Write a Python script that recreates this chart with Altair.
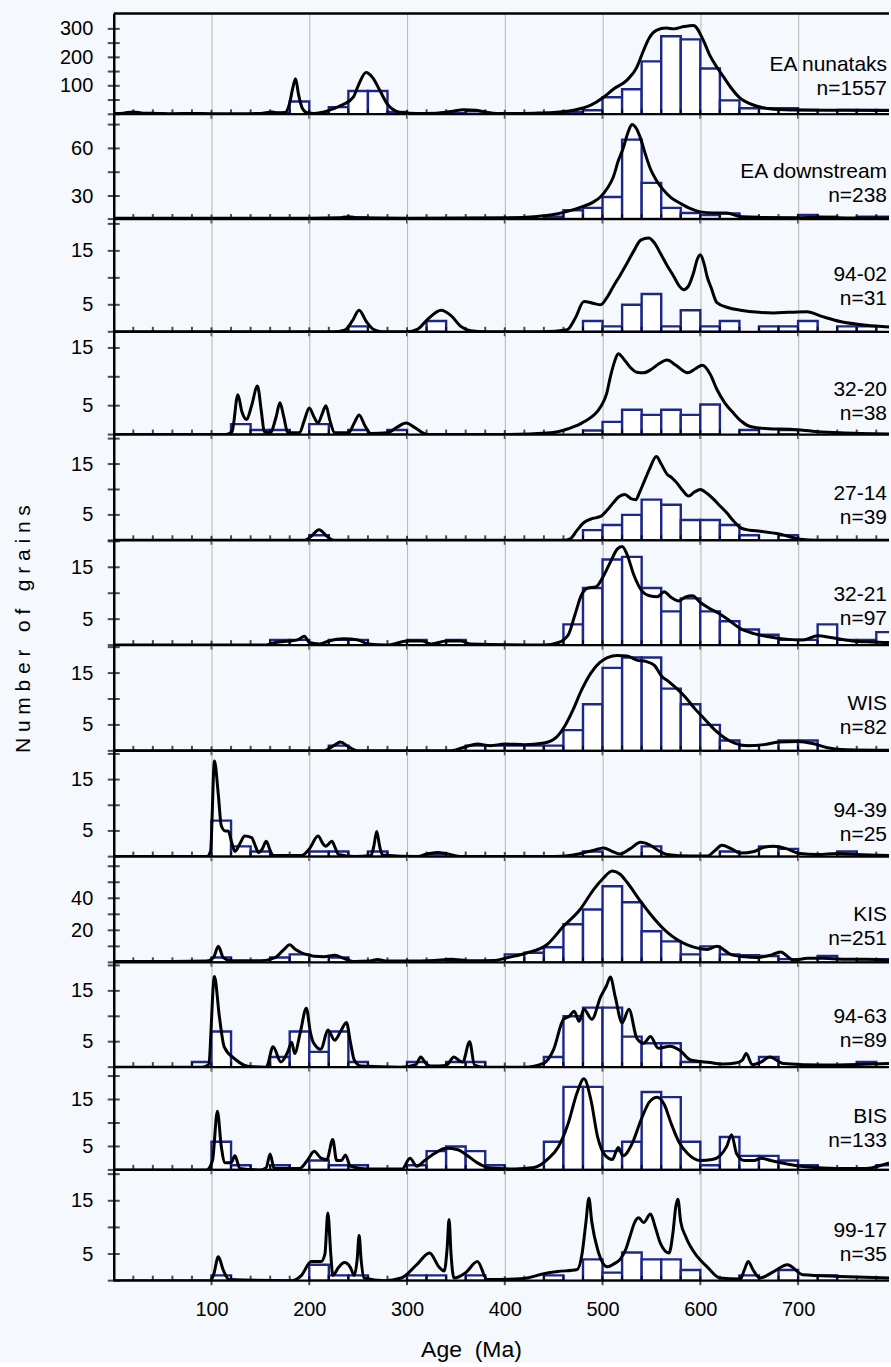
import altair as alt
import pandas as pd

FONT = "Liberation Sans"
BLUE = "#1c278a"
BG = "#f5f8fc"
GRID = "#a6a6a6"
X_MAX = 793
PLOT_W = 777
BIN_W = 20

PANEL_NAMES = ["EA nunataks", "EA downstream", "94-02", "32-20", "27-14", "32-21",
               "WIS", "94-39", "KIS", "94-63", "BIS", "99-17"]
PANEL_N = ["n=1557", "n=238", "n=31", "n=38", "n=39", "n=97",
           "n=82", "n=25", "n=251", "n=89", "n=133", "n=35"]
PANEL_H = [101, 105, 113, 103, 106, 105, 106, 106, 106, 105, 103, 111]
Y_MIN = [0, 15.5, 0, 0, 0, 0, 0, 0, 0, 0, 0, 0]
Y_MAX = [354, 81.5, 20.9, 17.8, 20.8, 20.2, 20.4, 20.6, 66, 20.6, 21.9, 20.8]
Y_LABELS = [[100, 200, 300], [30, 60], [5, 15], [5, 15], [5, 15], [5, 15],
            [5, 15], [5, 15], [20, 40], [5, 15], [5, 15], [5, 15]]
Y_MINOR = [[50, 150, 250], [45, 75], [10, 20], [10], [10, 20], [10, 20],
           [10, 20], [10, 20], [10, 30, 50, 60], [10, 20], [10, 20], [10, 20]]
LABEL_TOP = [52, 58, 56, 58, 60, 55, 59, 60, 59, 55, 50, 61]
X_TICK_MAJOR = [100, 200, 300, 400, 500, 600, 700]
X_TICK_MINOR = [20, 40, 60, 80, 120, 140, 160, 180, 220, 240, 260, 280, 320, 340, 360, 380,
                420, 440, 460, 480, 520, 540, 560, 580, 620, 640, 660, 680, 720, 740, 760, 780]

# ---------------- EA nunataks ----------------
EA_NUN_BIN = [160, 180, 200, 220, 240, 260, 280, 300, 340, 360, 440, 460, 480, 500, 520, 540,
              560, 580, 600, 620, 640, 660, 680, 700, 740, 760, 780]
EA_NUN_CNT = [5, 45, 3, 25, 82, 82, 8, 2, 4, 10, 5, 8, 14, 60, 88, 186,
              274, 263, 161, 49, 21, 21, 21, 15, 15, 15, 15]
EA_NUN_AGE = [0, 10, 20, 30, 45, 60, 80, 100, 130, 150, 162, 168, 175, 180, 183, 186, 189, 193,
              198, 205, 215, 225, 235, 245, 250, 258, 265, 272, 280, 288, 295, 310, 330, 345, 358,
              370, 380, 392, 410, 430, 450, 470, 488, 501, 511, 525, 535, 542, 548, 555, 565, 573,
              583, 593, 603, 610, 617, 625, 631, 641, 650, 658, 675, 700, 750, 793]
EA_NUN_DEN = [3, 4, 8, 4, 3, 2, 3, 2, 2, 3, 8, 5, 6, 40, 90, 125, 70, 20,
              5, 3, 8, 20, 35, 60, 100, 147, 128, 85, 35, 12, 5, 3, 4, 10, 16,
              14, 8, 3, 3, 4, 6, 14, 32, 60, 88, 120, 165, 225, 270, 295, 303, 300,
              308, 312, 260, 205, 165, 125, 95, 56, 38, 28, 18, 15, 14, 13]

# ---------------- EA downstream ----------------
EA_DS_BIN = [240, 440, 460, 480, 500, 520, 540, 560, 580, 600, 620, 640, 700, 720, 760, 780]
EA_DS_CNT = [16.5, 17, 21, 22.5, 29.4, 65.5, 38.3, 22.5, 19.3, 18, 19, 17, 18, 17, 17, 17]
EA_DS_AGE = [0, 200, 230, 240, 250, 300, 400, 430, 447, 465, 478, 490, 498, 505, 511, 516, 521,
             526, 530, 535, 539, 544, 549, 555, 562, 570, 579, 590, 600, 613, 627, 641, 660, 700,
             720, 750, 793]
EA_DS_DEN = [16, 16, 16.3, 17, 16.3, 16, 16.3, 17, 18, 20.5, 23, 26, 29.5, 35, 42, 52, 60,
             70, 75, 72, 66, 56, 47, 40, 34, 29, 25.6, 22, 20, 19.3, 19.3, 17, 16.5, 16.3,
             16.6, 16.2, 16.2]

# ---------------- 94-02 ----------------
S9402_BIN = [240, 320, 480, 500, 520, 540, 560, 580, 600, 620, 660, 680, 700, 740, 760]
S9402_CNT = [1, 2, 2, 1, 5, 7, 1, 4, 1, 2, 1, 1, 2, 1, 1]
S9402_AGE = [0, 225, 236, 244, 251, 258, 266, 275, 300, 311, 322, 335, 345, 355, 365, 380, 440,
             464, 472, 481, 490, 498, 505, 511, 518, 525, 532, 539, 547, 553, 559, 566, 573, 578,
             583, 588, 593, 597, 600, 604, 607, 611, 617, 628, 641, 660, 675, 690, 709, 725, 743,
             770, 793]
S9402_DEN = [0, 0, 0.3, 2, 4, 2, 0.4, 0, 0, 0.5, 2.5, 4, 3, 1, 0.2, 0, 0,
             0.4, 2.5, 5.6, 5.3, 5, 6.5, 8.4, 10.5, 12.7, 15, 17, 17.4, 16.5, 14.6, 12.3, 10.2, 8.6,
             7.8, 8.5, 10.9, 13.5, 14.3, 12.5, 10.2, 8.2, 5.4, 4.5, 4, 3.6, 3.5, 3.6, 3.7, 2.8, 1.9,
             1.2, 0.9]

# ---------------- 32-20 ----------------
S3220_BIN = [120, 140, 160, 200, 240, 280, 480, 500, 520, 540, 560, 580, 600, 640, 680]
S3220_CNT = [1.8, 0.8, 0.8, 1.8, 0.8, 0.8, 0.7, 2.2, 4.3, 3.4, 4.3, 3.4, 5.2, 0.8, 0.8]
S3220_AGE = [0, 115, 121, 127, 131, 136, 141, 147, 151, 154, 160, 166, 170, 174, 178, 190, 195,
             200, 205, 209, 213, 217, 221, 226, 240, 246, 251, 257, 263, 280, 290, 299, 308, 321,
             400, 447, 465, 481, 498, 504, 508, 512, 516, 522, 528, 535, 542, 550, 558, 566, 575,
             587, 595, 602, 610, 617, 625, 634, 642, 651, 670, 692, 720, 743, 793]
S3220_DEN = [0, 0, 0.5, 6.9, 4, 2.6, 5, 8.4, 4, 0.5, 0.3, 3, 5.5, 3, 0.3, 0.3, 2.5,
             4.6, 3, 2, 3.5, 5, 2.5, 0.3, 0.3, 2, 3.4, 1.5, 0.2, 0.3, 1.3, 2, 1.2, 0,
             0, 0.3, 1, 2.2, 4.8, 7, 10, 12.5, 14, 13, 11.7, 10.8, 10.7, 11.3, 12.3, 12.9, 12,
             10.7, 11.4, 12, 10.5, 7.8, 5.5, 3.7, 2.3, 1.4, 1, 0.9, 0.5, 0.3, 0.1]

# ---------------- 27-14 ----------------
S2714_BIN = [200, 480, 500, 520, 540, 560, 580, 600, 620, 640, 680]
S2714_CNT = [1, 2, 3, 5, 8, 7, 4, 4, 3, 1, 1]
S2714_AGE = [0, 195, 202, 210, 218, 225, 460, 467, 474, 481, 490, 498, 505, 511, 517, 523, 529,
             534, 538, 542, 548, 555, 560, 566, 571, 576, 582, 588, 594, 600, 607, 614, 620, 627,
             634, 641, 650, 661, 682, 702, 720, 793]
S2714_DEN = [0, 0, 0.8, 2.1, 0.8, 0, 0, 0.3, 2, 3.5, 4.3, 4.7, 6, 7.4, 8.6, 9, 8.2,
             8, 9.5, 11.3, 14, 16.5, 15, 13, 12.3, 11.3, 9.8, 8.7, 9.5, 10, 9.2, 8, 6.8, 5.4,
             3.8, 2.5, 2, 1.8, 1.2, 0.2, 0, 0]

# ---------------- 32-21 ----------------
S3221_BIN = [160, 180, 220, 240, 300, 340, 460, 480, 500, 520, 540, 560, 580, 600, 620, 640,
             660, 680, 700, 720, 740, 760, 780]
S3221_CNT = [1, 1, 1, 1, 1, 1, 4, 11, 16.5, 17, 11, 6.5, 9, 6.5, 4.6, 3,
             2, 1, 1, 4, 1, 1, 2.5]
S3221_AGE = [0, 155, 165, 180, 188, 195, 200, 210, 220, 235, 250, 260, 280, 300, 315, 325, 340,
             355, 365, 440, 455, 465, 472, 478, 485, 493, 500, 508, 515, 520, 525, 532, 540, 548,
             556, 563, 570, 578, 585, 592, 600, 610, 620, 630, 640, 655, 670, 690, 705, 720, 735,
             755, 775, 793]
S3221_DEN = [0, 0, 0.5, 0.8, 1, 1.7, 0.5, 0.2, 0.8, 1.2, 1, 0.2, 0, 0.8, 0.8, 0.2, 0.8,
             0.8, 0.2, 0, 0.5, 2, 6, 9.5, 11, 11.2, 13, 16, 18.5, 19, 17.5, 13.5, 10.5, 9.5,
             9.3, 10.3, 9.2, 8.5, 9.3, 9.5, 8.2, 7, 6, 4.7, 3.3, 2.2, 1.6, 1.1, 1, 1.8, 1.4,
             0.8, 0.6, 0.5]

# ---------------- WIS ----------------
WIS_BIN = [220, 360, 380, 400, 420, 440, 460, 480, 500, 520, 540, 560, 580, 600, 620, 640,
           680, 700]
WIS_CNT = [1, 1, 1, 1, 1, 1, 4, 9, 16, 18, 18, 12, 9, 5, 2, 1, 2, 2]
WIS_AGE = [0, 215, 225, 232, 240, 250, 345, 360, 372, 385, 400, 420, 440, 452, 462, 470, 478,
           488, 497, 505, 515, 525, 535, 545, 553, 560, 568, 576, 585, 595, 605, 615, 625, 635,
           650, 665, 680, 700, 715, 730, 750, 793]
WIS_DEN = [0, 0, 1, 1.7, 0.8, 0, 0, 0.8, 1.3, 1, 1.3, 1.2, 1.5, 2.5, 5, 8, 11.5,
           15, 17, 18, 18.4, 18.3, 17.5, 17.2, 16.5, 14.5, 13.3, 12, 10.3, 8, 6, 4, 2.5, 1.5,
           1, 1.2, 1.7, 1.8, 1.4, 0.6, 0.2, 0.1]

# ---------------- 94-39 ----------------
S9439_BIN = [100, 120, 140, 200, 220, 260, 320, 480, 540, 620, 660, 680, 740]
S9439_CNT = [7, 2, 1, 1, 1, 1, 0.5, 1, 2, 1, 2, 1.5, 1]
S9439_AGE = [0, 95, 99, 103, 107, 110, 114, 117, 121, 124, 129, 134, 141, 145, 148, 152, 156,
             160, 163, 192, 200, 209, 214, 217, 220, 223, 227, 230, 246, 263, 266, 269, 272, 275,
             311, 320, 331, 342, 355, 450, 470, 490, 501, 510, 518, 528, 539, 548, 557, 566, 590,
             607, 615, 622, 632, 641, 655, 665, 675, 687, 702, 720, 740, 760, 793]
S9439_DEN = [0, 0, 1, 18.6, 12, 6, 5, 5, 2.5, 1, 2.5, 4, 3.7, 2, 0.8, 1.5, 3,
             1.2, 0.2, 0.2, 1.5, 4, 2.5, 2, 2.5, 3, 1.5, 0.4, 0, 0.2, 2, 4.9, 2, 0.3,
             0, 0.5, 0.8, 0.5, 0, 0, 0.3, 1.2, 1.7, 1, 0.5, 1.5, 2.8, 2.3, 1.2, 0.4, 0.1,
             0.1, 1.2, 2.2, 1.5, 0.7, 1, 1.8, 2, 1.6, 0.6, 0.4, 0.6, 0.4, 0.2]

# ---------------- KIS ----------------
KIS_BIN = [100, 160, 180, 220, 340, 400, 420, 440, 460, 480, 500, 520, 540, 560, 580, 600,
           620, 640, 660, 680, 720, 760, 780]
KIS_CNT = [3, 3, 5, 3, 1.5, 5, 6, 9.4, 23.8, 33, 47.5, 37.5, 19.4, 13.1, 5, 10,
           5, 4.4, 4, 2, 4, 2, 2]
KIS_AGE = [0, 60, 95, 102, 107, 112, 120, 150, 165, 174, 180, 186, 192, 200, 205, 215, 226,
           233, 246, 262, 270, 278, 300, 328, 345, 362, 390, 403, 423, 443, 460, 477, 491, 500,
           510, 518, 525, 539, 549, 566, 586, 600, 607, 617, 631, 645, 658, 672, 682, 695, 710,
           726, 745, 770, 793]
KIS_DEN = [0.5, 0.5, 0.8, 3, 10, 3, 1, 1, 3, 8, 11, 8, 6, 4.5, 3.8, 3.5, 4.4,
           3, 0.5, 0.8, 1.8, 0.8, 0.8, 1.2, 1.9, 1, 1.2, 3, 6, 11, 22.5, 33, 45.6, 52,
           57, 55, 50, 38, 30, 18.8, 11, 8.5, 8, 10, 5, 3.5, 3, 4.5, 6.5, 1.5, 2.5,
           2.5, 2, 2, 1.2]

# ---------------- 94-63 ----------------
S9463_BIN = [80, 100, 160, 180, 200, 220, 240, 300, 340, 360, 440, 460, 480, 500, 520, 540,
             560, 580, 660, 760]
S9463_CNT = [1, 7, 2, 7, 3, 7, 1, 1, 1, 1, 2, 10, 11.7, 11.7, 6, 4.7, 4.7, 1, 2, 1]
S9463_AGE = [0, 90, 97, 103, 108, 113, 124, 137, 156, 163, 171, 178, 182, 185, 191, 197, 201,
             204, 212, 219, 226, 232, 238, 242, 246, 253, 294, 309, 314, 319, 324, 340, 348, 354,
             357, 364, 369, 379, 420, 440, 450, 460, 466, 471, 476, 481, 489, 498, 504, 508, 513,
             520, 527, 535, 542, 549, 557, 569, 579, 590, 610, 624, 636, 643, 647, 653, 662, 671,
             685, 726, 760, 793]
S9463_DEN = [0, 0, 0.5, 17.8, 10, 4, 1.6, 0.2, 0, 4, 1, 3, 4.9, 2.7, 7, 11.6, 7,
             4.9, 3.5, 7.3, 5.3, 7, 8.8, 5, 1.4, 0.2, 0, 0.5, 2, 0.8, 0.2, 0.3, 2, 1.2,
             1, 5, 0.4, 0, 0, 0.8, 3.5, 9.4, 10, 11, 9, 11.4, 9.4, 13.8, 16, 17.7, 13.8,
             8.7, 11.4, 5.7, 4.7, 6, 3.7, 4.1, 3.3, 1.4, 0.9, 0.6, 0.8, 1.4, 2.7, 0.5, 1, 2,
             0.7, 0.4, 0.5, 0.7]

# ---------------- BIS ----------------
BIS_BIN = [100, 120, 160, 200, 220, 240, 300, 320, 340, 360, 380, 440, 460, 480, 500, 520,
           540, 560, 580, 600, 620, 640, 660, 680, 700, 780]
BIS_CNT = [6, 1, 1, 2, 1, 1, 1, 4, 5, 4, 1, 6, 17.7, 17.7, 4, 6,
           16.6, 15.5, 6, 1, 7, 3, 3, 2, 1, 1]
BIS_AGE = [0, 95, 101, 106, 110, 114, 120, 124, 129, 150, 156, 160, 164, 190, 198, 205, 212,
           218, 224, 228, 233, 237, 242, 260, 295, 303, 310, 318, 328, 340, 352, 362, 372, 385,
           410, 430, 445, 455, 465, 474, 481, 488, 495, 503, 510, 516, 521, 530, 540, 548, 556,
           563, 570, 578, 587, 600, 612, 620, 627, 632, 637, 645, 655, 662, 672, 690, 710, 740,
           770, 785, 793]
BIS_DEN = [0, 0, 2, 12.5, 5, 1.5, 1.5, 3, 0.3, 0, 0.5, 3.4, 0.3, 0.3, 2, 4, 2.5,
           2.2, 6.5, 2, 2, 3.2, 0.8, 0.2, 0.2, 2.5, 0.8, 2, 3.5, 4.6, 4.3, 3, 1.5, 0.4,
           0.2, 0.5, 2.5, 5, 10, 16.5, 19.4, 15, 7, 3, 2.2, 4.8, 3, 5.5, 11, 14.5, 15.5,
           14, 10, 6, 3.5, 2, 2.2, 3, 5, 7.5, 3.5, 2, 2, 2.5, 2, 1.2, 0.6, 0.3,
           0.3, 1, 1.5]

# ---------------- 99-17 ----------------
S9917_BIN = [100, 200, 220, 240, 300, 320, 360, 440, 480, 500, 520, 540, 560, 580, 640, 680, 720]
S9917_CNT = [1, 3, 1, 1, 1, 1, 1, 1, 4, 1.5, 5.3, 4, 4, 2, 1, 2, 1]
S9917_AGE = [0, 98, 102, 107, 112, 118, 182, 192, 202, 212, 216, 219, 222, 224, 230, 236, 242,
             246, 249, 251, 253, 256, 277, 294, 310, 323, 333, 338, 341, 343, 345, 348, 360, 372,
             382, 419, 440, 454, 474, 479, 483, 486, 489, 495, 505, 512, 518, 524, 528, 533, 537,
             542, 549, 554, 559, 568, 572, 575, 577, 580, 585, 597, 607, 620, 641, 645, 649, 654,
             661, 675, 689, 705, 743, 793]
S9917_DEN = [0, 0, 1, 4.5, 2, 0.2, 0, 1, 3.6, 3.6, 5, 12.7, 5, 1, 2.5, 3.4, 2.5,
             1, 4, 8.5, 4, 0.5, 0, 0.5, 3, 5.2, 2.5, 1.8, 6, 11.5, 5, 0.5, 1.5, 3.6,
             0.2, 0.4, 1.3, 1.7, 2.1, 5, 11, 15.5, 11, 5.8, 2.6, 3.2, 4, 6, 8.3, 11, 11.8,
             10.9, 12.5, 10, 7.1, 5.2, 9, 14, 15.3, 11, 8.3, 4.5, 2.6, 0.5, 0.3, 2, 3.6, 2,
             0.5, 1.7, 3, 1.1, 0.8, 0.5]

HIST_BINS = [EA_NUN_BIN, EA_DS_BIN, S9402_BIN, S3220_BIN, S2714_BIN, S3221_BIN,
             WIS_BIN, S9439_BIN, KIS_BIN, S9463_BIN, BIS_BIN, S9917_BIN]
HIST_CNTS = [EA_NUN_CNT, EA_DS_CNT, S9402_CNT, S3220_CNT, S2714_CNT, S3221_CNT,
             WIS_CNT, S9439_CNT, KIS_CNT, S9463_CNT, BIS_CNT, S9917_CNT]
CURVE_AGES = [EA_NUN_AGE, EA_DS_AGE, S9402_AGE, S3220_AGE, S2714_AGE, S3221_AGE,
              WIS_AGE, S9439_AGE, KIS_AGE, S9463_AGE, BIS_AGE, S9917_AGE]
CURVE_DENS = [EA_NUN_DEN, EA_DS_DEN, S9402_DEN, S3220_DEN, S2714_DEN, S3221_DEN,
              WIS_DEN, S9439_DEN, KIS_DEN, S9463_DEN, BIS_DEN, S9917_DEN]

N_PANELS = len(PANEL_NAMES)


def make_panel(i):
    base = Y_MIN[i]
    h = PANEL_H[i]
    last = i == N_PANELS - 1
    xs = alt.Scale(domain=[0, X_MAX], nice=False, zero=False)
    ys = alt.Scale(domain=[Y_MIN[i], Y_MAX[i]], nice=False, zero=False)

    x_kwargs = dict(values=X_TICK_MAJOR, grid=True, gridColor=GRID, gridWidth=0.8,
                    domain=False, ticks=False, tickSize=0, labels=last,
                    labelFont=FONT, labelFontSize=20, labelColor="black", labelPadding=19)
    if last:
        x_kwargs.update(title="Age\u00a0 (Ma)", titleFont=FONT, titleFontSize=23,
                        titleFontWeight="normal", titleColor="black", titleX=358,
                        titleY=69, titleBaseline="middle", titleAlign="center")
    else:
        x_kwargs.update(title=None)
    x_axis = alt.Axis(**x_kwargs)
    y_axis = alt.Axis(values=Y_LABELS[i], grid=False, ticks=False, tickSize=0,
                      domain=True, domainColor="black", domainWidth=2.5,
                      labelFont=FONT, labelFontSize=20, labelColor="black",
                      labelPadding=21, title=None)

    hist_df = pd.DataFrame({"start": HIST_BINS[i],
                            "end": [b + BIN_W for b in HIST_BINS[i]],
                            "count": HIST_CNTS[i]})
    hist_df["base"] = base
    curve_df = pd.DataFrame({"age": CURVE_AGES[i], "density": CURVE_DENS[i]})

    bars = alt.Chart(hist_df).mark_rect(
        fill="white", stroke=BLUE, strokeWidth=2.4, clip=True).encode(
        x=alt.X("start:Q", scale=xs, axis=x_axis),
        x2="end:Q",
        y=alt.Y("count:Q", scale=ys, axis=y_axis),
        y2="base:Q",
    )
    baseline = alt.Chart(pd.DataFrame({"b": [base]})).mark_rule(
        color="black", strokeWidth=2.2).encode(y=alt.Y("b:Q", scale=ys, axis=y_axis))
    curve = alt.Chart(curve_df).mark_line(
        color="black", strokeWidth=3, interpolate="monotone", clip=True).encode(
        x=alt.X("age:Q", scale=xs, axis=x_axis),
        y=alt.Y("density:Q", scale=ys, axis=y_axis),
    )
    ytick_df = pd.DataFrame({"v": [base] + Y_LABELS[i] + Y_MINOR[i]})
    yticks = alt.Chart(ytick_df).mark_tick(
        orient="horizontal", size=12, thickness=2, color="black").encode(
        x=alt.XDatum(0, scale=xs, axis=x_axis),
        y=alt.Y("v:Q", scale=ys, axis=y_axis),
    )
    xminor = alt.Chart(pd.DataFrame({"v": X_TICK_MINOR})).mark_tick(
        orient="vertical", size=5, thickness=2, color="black", yOffset=-2.5).encode(
        x=alt.X("v:Q", scale=xs, axis=x_axis),
        y=alt.YDatum(base, scale=ys, axis=y_axis),
    )
    xmajor = alt.Chart(pd.DataFrame({"v": X_TICK_MAJOR})).mark_tick(
        orient="vertical", size=9, thickness=2, color="black").encode(
        x=alt.X("v:Q", scale=xs, axis=x_axis),
        y=alt.YDatum(base, scale=ys, axis=y_axis),
    )
    name_txt = alt.Chart(pd.DataFrame({"t": [PANEL_NAMES[i]]})).mark_text(
        align="right", baseline="middle", font=FONT, fontSize=21, color="black").encode(
        text="t:N", x=alt.value(PLOT_W - 2), y=alt.value(LABEL_TOP[i]))
    n_txt = alt.Chart(pd.DataFrame({"t": [PANEL_N[i]]})).mark_text(
        align="right", baseline="middle", font=FONT, fontSize=21, color="black").encode(
        text="t:N", x=alt.value(PLOT_W - 2), y=alt.value(LABEL_TOP[i] + 24))

    layers = [bars, baseline, curve, yticks, xminor, xmajor, name_txt, n_txt]
    if i == 0:
        top = alt.Chart(pd.DataFrame({"b": [Y_MAX[0]]})).mark_rule(
            color="black", strokeWidth=2.5).encode(y=alt.Y("b:Q", scale=ys, axis=y_axis))
        layers.append(top)
    if i == 5:
        ytitle = alt.Chart(pd.DataFrame({"t": ["N u m b e r \u00a0 o f \u00a0 g r a i n s"]})).mark_text(
            angle=270, align="center", baseline="middle", font=FONT, fontSize=21,
            color="black").encode(text="t:N", x=alt.value(-90), y=alt.value(89))
        layers.append(ytitle)
    return alt.layer(*layers).properties(width=PLOT_W, height=h)


panels = [make_panel(i) for i in range(N_PANELS)]

chart = alt.vconcat(*panels, spacing=0, bounds="flush").properties(
    padding={"left": 13, "top": 10, "right": 0, "bottom": 0},
    background=BG,
).configure_view(strokeWidth=0)

chart.save("out.html", embed_options={"renderer": "svg", "actions": False})
